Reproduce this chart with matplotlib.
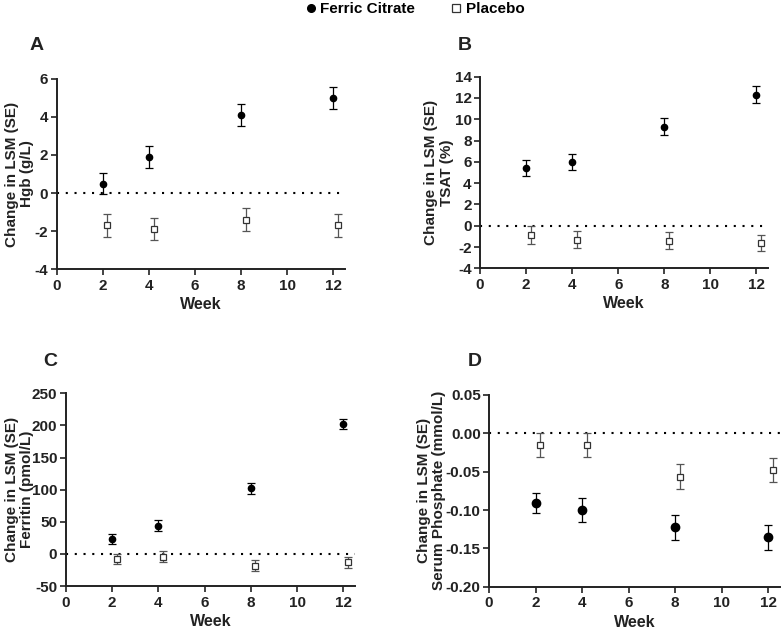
import numpy as np
import matplotlib
matplotlib.use('Agg')
import matplotlib.pyplot as plt
from matplotlib.lines import Line2D

plt.rcParams['font.family'] = ['Liberation Sans', 'DejaVu Sans']
plt.rcParams['font.weight'] = 'bold'

weeks = [2, 4, 8, 12]
offset = 0.2  # placebo points are shifted right a little

# panel A - Hgb (g/L)
hgb_fc = [0.5, 1.9, 4.1, 5.0]
hgb_fc_se = [0.56, 0.57, 0.57, 0.58]
hgb_pl = [-1.7, -1.9, -1.4, -1.7]
hgb_pl_se = [0.58, 0.57, 0.6, 0.58]

# panel B - TSAT (%)
tsat_fc = [5.4, 5.95, 9.3, 12.3]
tsat_fc_se = [0.75, 0.75, 0.78, 0.8]
tsat_pl = [-0.9, -1.3, -1.4, -1.6]
tsat_pl_se = [0.83, 0.78, 0.83, 0.77]

# panel C - Ferritin (pmol/L)
fer_fc = [23, 44, 102, 202]
fer_fc_se = [8.3, 8.0, 8.7, 8.3]
fer_pl = [-8.5, -4.5, -18.3, -13]
fer_pl_se = [8.0, 8.5, 8.5, 8.5]

# panel D - Serum phosphate (mmol/L)
pho_fc = [-0.0905, -0.100, -0.1226, -0.1356]
pho_fc_se = [0.013, 0.016, 0.016, 0.016]
pho_pl = [-0.0155, -0.0155, -0.0566, -0.0479]
pho_pl_se = [0.016, 0.016, 0.016, 0.016]

W, H = 781, 629

# letter, unit, data..., ylim, yticks, fmt, axes rect (px), ylabel x (axes frac), letter pos (px), marker sizes
panels = [
    ('A', 'Hgb (g/L)', hgb_fc, hgb_fc_se, hgb_pl, hgb_pl_se,
     (-4, 6), np.arange(-4, 7, 2), '%d', (56.7, 78.7, 345, 269.3), -0.08, (30, 45), 4.5, 4.8),
    ('B', 'TSAT (%)', tsat_fc, tsat_fc_se, tsat_pl, tsat_pl_se,
     (-4, 14), np.arange(-4, 15, 2), '%d', (480, 76.7, 768, 268.3), -0.092, (458, 45), 4.5, 4.8),
    ('C', 'Ferritin (pmol/L)', fer_fc, fer_fc_se, fer_pl, fer_pl_se,
     (-50, 250), np.arange(-50, 251, 50), '%d', (65.7, 393.3, 355, 586), -0.11, (43, 362), 4.5, 4.8),
    ('D', 'Serum Phosphate (mmol/L)', pho_fc, pho_fc_se, pho_pl, pho_pl_se,
     (-0.2, 0.05), np.arange(-0.2, 0.051, 0.05), '%.2f', (489, 395, 780, 586.7), -0.147, (468, 362), 6, 4.5),
]

fig = plt.figure(figsize=(W / 100, H / 100), dpi=100)

for (letter, unit, fc, fc_se, pl, pl_se, ylim, yticks, fmt, rect, ylx, lpos,
     ms_fc, ms_pl) in panels:
    x0, y0, x1, y1 = rect
    ax = fig.add_axes([x0 / W, 1 - y1 / H, (x1 - x0) / W, (y1 - y0) / H])
    ax.axhline(0, color='black', lw=1.5, ls=(0, (1.0, 3.2)), zorder=1)
    ax.errorbar(weeks, fc, yerr=fc_se, fmt='o', color='black', ms=ms_fc,
                elinewidth=0.9, capsize=3, capthick=0.9, zorder=3)
    ax.errorbar(np.array(weeks) + offset, pl, yerr=pl_se, fmt='s', mfc='white',
                mec='#333333', mew=0.9, ms=ms_pl, ecolor='#555555',
                elinewidth=0.9, capsize=3, capthick=0.9, zorder=3)
    ax.set_xlim(0, 12.5)
    ax.set_ylim(*ylim)
    ax.set_xticks(range(0, 13, 2))
    ax.set_yticks(yticks)
    ax.set_yticklabels([fmt % (0 if abs(v) < 1e-9 else v) for v in yticks])
    for s in ['top', 'right']:
        ax.spines[s].set_visible(False)
    for s in ['left', 'bottom']:
        ax.spines[s].set_linewidth(1.4)
        ax.spines[s].set_color('#222222')
    ax.tick_params(width=1.2, length=4, labelsize=11, colors='#222222', pad=2)
    ax.tick_params(axis='x', pad=3)
    ax.set_xlabel('Week', fontsize=11.5, fontweight='bold', labelpad=3, color='#222222')
    ax.set_ylabel('Change in LSM (SE)\n' + unit, fontsize=11, fontweight='bold',
                  linespacing=1.1, color='#222222')
    ax.yaxis.set_label_coords(ylx, 0.5)
    fig.text(lpos[0] / W, 1 - lpos[1] / H, letter, fontsize=14,
             fontweight='bold', ha='left', va='center', color='#222222')

handles = [
    Line2D([], [], ls='none', marker='o', color='black', ms=5.5),
    Line2D([], [], ls='none', marker='s', mfc='white', mec='#333333', mew=0.9, ms=6),
]
fig.legend(handles, ['Ferric Citrate', 'Placebo'], loc='upper center',
           bbox_to_anchor=(0.53, 1.018), ncol=2, frameon=False, fontsize=11,
           handletextpad=0.1, columnspacing=2.2, handlelength=1.0)

fig.savefig('out.png', dpi=100)
